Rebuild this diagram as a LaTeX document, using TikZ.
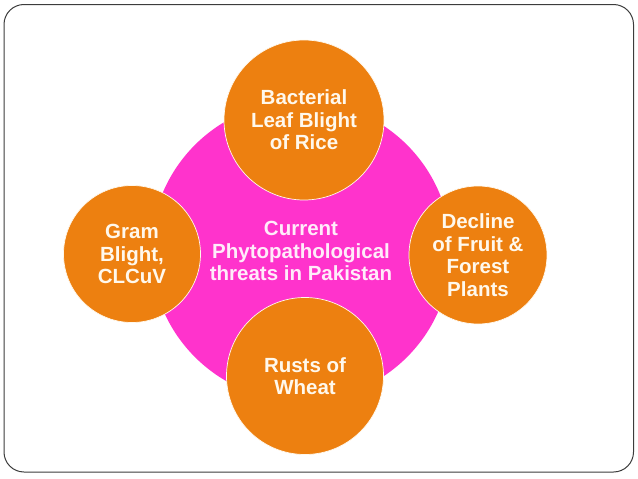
\documentclass[tikz,border=0pt]{standalone}
\usepackage{fontspec}
\setmainfont{Liberation Sans}
\definecolor{hubpink}{RGB}{255,51,204}
\definecolor{petal}{RGB}{237,128,16}
\definecolor{framegray}{RGB}{60,60,60}
\definecolor{pinkwhite}{RGB}{255,236,250}
\definecolor{creamwhite}{RGB}{255,248,236}
\begin{document}
\begin{tikzpicture}[x=1pt,y=-1pt,
  hub/.style={circle,fill=hubpink,draw=none,minimum size=300pt,inner sep=0pt,
    text=pinkwhite,font=\fontsize{20.5}{22.5}\selectfont\bfseries,align=center},
  petalbox/.style={circle,fill=petal,draw=creamwhite,line width=0.7pt,inner sep=0pt,
    text=creamwhite,font=\fontsize{20.5}{22.5}\selectfont\bfseries,align=center}]
\useasboundingbox (0,0) rectangle (638,479);
\draw[framegray,line width=1pt,rounded corners=20pt] (4,4.5) rectangle (633.5,472);
\node[hub] (hub) at (301,251) {Current\\Phytopathological\\threats in Pakistan};
\node[petalbox,minimum size=160pt] (top) at (304,120) {Bacterial\\Leaf Blight\\of Rice};
\node[petalbox,minimum size=137pt] (left) at (132,254) {Gram\\Blight,\\CLCuV};
\node[petalbox,minimum size=138pt] (right) at (478,255) {Decline\\of Fruit \&\\Forest\\Plants};
\node[petalbox,minimum size=157pt] (bottom) at (305,376) {Rusts of\\Wheat};
\end{tikzpicture}
\end{document}
